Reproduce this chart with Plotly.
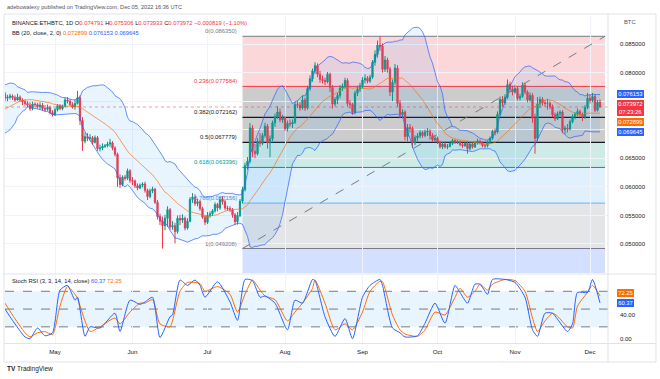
import pandas as pd
import plotly.graph_objects as go

# ---------------- data (ETHBTC daily) ----------------
START = "2022-03-22"

opens = [
    0.0704, 0.0706, 0.0717, 0.0713, 0.0705, 0.0707, 0.0698, 0.0719, 0.0723, 0.0733,
    0.0723, 0.0743, 0.0752, 0.0757, 0.0759, 0.0758, 0.0753, 0.0740, 0.0750, 0.0761,
    0.0763, 0.0755, 0.0757, 0.0759, 0.0756, 0.0752, 0.0757, 0.0752, 0.0749, 0.0746,
    0.0743, 0.0737, 0.0745, 0.0744, 0.0740, 0.0743, 0.0737, 0.0736, 0.0739, 0.0730,
    0.0726, 0.0735, 0.0742, 0.0737, 0.0741, 0.0752, 0.0750, 0.0744, 0.0740, 0.0746,
    0.0756, 0.0716, 0.0680, 0.0688, 0.0685, 0.0686, 0.0678, 0.0686, 0.0667, 0.0668,
    0.0671, 0.0672, 0.0675, 0.0677, 0.0668, 0.0657, 0.0616, 0.0604, 0.0617, 0.0615, 0.0628,
    0.0611, 0.0610, 0.0602, 0.0598, 0.0603, 0.0605, 0.0594, 0.0583, 0.0593, 0.0596,
    0.0573, 0.0548, 0.0540, 0.0532, 0.0545, 0.0560, 0.0530, 0.0532, 0.0522, 0.0545,
    0.0542, 0.0545, 0.0528, 0.0540, 0.0578, 0.0582, 0.0571, 0.0574, 0.0562, 0.0547,
    0.0538, 0.0550, 0.0553, 0.0558, 0.0569, 0.0563, 0.0578, 0.0574, 0.0563, 0.0562,
    0.0560, 0.0551, 0.0539, 0.0550, 0.0575, 0.0595, 0.0637, 0.0645, 0.0703, 0.0662,
    0.0658, 0.0680, 0.0676, 0.0690, 0.0706, 0.0677, 0.0684, 0.0712, 0.0723, 0.0731, 0.0717,
    0.0721, 0.0702, 0.0711, 0.0710, 0.0713, 0.0744, 0.0743, 0.0738, 0.0752, 0.0738,
    0.0772, 0.0789, 0.0803, 0.0812, 0.0797, 0.0788, 0.0786, 0.0784, 0.0797, 0.0774,
    0.0745, 0.0753, 0.0760, 0.0773, 0.0775, 0.0786, 0.0746, 0.0744, 0.0730, 0.0764, 0.0771,
    0.0777, 0.0787, 0.0790, 0.0785, 0.0792, 0.0818, 0.0832, 0.0848, 0.0846, 0.0806,
    0.0822, 0.0806, 0.0766, 0.0783, 0.0808, 0.0746, 0.0726, 0.0731, 0.0688, 0.0704,
    0.0702, 0.0677, 0.0686, 0.0689, 0.0695, 0.0690, 0.0696, 0.0697, 0.0690, 0.0682,
    0.0685, 0.0678, 0.0670, 0.0675, 0.0670, 0.0671, 0.0676, 0.0681, 0.0678, 0.0679,
    0.0674, 0.0672, 0.0676, 0.0667, 0.0675, 0.0670, 0.0677, 0.0680, 0.0678, 0.0672,
    0.0672, 0.0678, 0.0685, 0.0697, 0.0696, 0.0727, 0.0753, 0.0747, 0.0757, 0.0779, 0.0771,
    0.0766, 0.0772, 0.0755, 0.0758, 0.0778, 0.0766, 0.0752, 0.0760, 0.0720, 0.0685,
    0.0745, 0.0753, 0.0747, 0.0746, 0.0746, 0.0740, 0.0726, 0.0719, 0.0728, 0.0731,
    0.0700, 0.0703, 0.0701, 0.0714, 0.0723, 0.0727, 0.0732, 0.0727, 0.0722, 0.0739,
    0.0755, 0.0751, 0.0758, 0.0734, 0.074791,
]
highs = [
    0.0712, 0.0720, 0.0722, 0.0716, 0.0711, 0.0709, 0.0724, 0.0728, 0.0738, 0.0737,
    0.0747, 0.0756, 0.0762, 0.0765, 0.0766, 0.0762, 0.0757, 0.0754, 0.0764, 0.0767,
    0.0766, 0.0761, 0.0763, 0.0762, 0.0760, 0.0763, 0.0760, 0.0755, 0.0753, 0.0750,
    0.0748, 0.0749, 0.0748, 0.0747, 0.0748, 0.0747, 0.0743, 0.0744, 0.0742, 0.0734,
    0.0738, 0.0745, 0.0745, 0.0744, 0.0756, 0.0757, 0.0753, 0.0748, 0.0752, 0.0768,
    0.0760, 0.0722, 0.0695, 0.0694, 0.0692, 0.0689, 0.0690, 0.0689, 0.0674, 0.0676,
    0.0675, 0.0679, 0.0684, 0.0680, 0.0671, 0.0660, 0.0622, 0.0620, 0.0621, 0.0632, 0.0631,
    0.0617, 0.0613, 0.0606, 0.0606, 0.0608, 0.0609, 0.0597, 0.0597, 0.0600, 0.0598,
    0.0577, 0.0553, 0.0548, 0.0551, 0.0566, 0.0563, 0.0540, 0.0537, 0.0550, 0.0551,
    0.0552, 0.0548, 0.0545, 0.0582, 0.0589, 0.0587, 0.0579, 0.0577, 0.0565, 0.0551,
    0.0556, 0.0557, 0.0561, 0.0573, 0.0572, 0.0583, 0.0584, 0.0578, 0.0567, 0.0566,
    0.0563, 0.0554, 0.0556, 0.0579, 0.0600, 0.0642, 0.0652, 0.0712, 0.0708, 0.0675,
    0.0685, 0.0694, 0.0694, 0.0712, 0.0710, 0.0690, 0.0716, 0.0728, 0.0741, 0.0737, 0.0726,
    0.0724, 0.0716, 0.0718, 0.0718, 0.0749, 0.0750, 0.0748, 0.0760, 0.0756, 0.0777,
    0.0795, 0.0807, 0.0818, 0.0816, 0.0803, 0.0795, 0.0791, 0.0801, 0.0800, 0.0778,
    0.0757, 0.0765, 0.0778, 0.0781, 0.0791, 0.0790, 0.0752, 0.0747, 0.0768, 0.0777, 0.0782,
    0.0792, 0.0797, 0.0794, 0.0796, 0.0822, 0.0839, 0.0856, 0.08635, 0.0851, 0.0829,
    0.0826, 0.0810, 0.0788, 0.0815, 0.0813, 0.0752, 0.0736, 0.0734, 0.0710, 0.0710,
    0.0706, 0.0690, 0.0694, 0.0699, 0.0698, 0.0700, 0.0703, 0.0701, 0.0694, 0.0690,
    0.0688, 0.0681, 0.0679, 0.0680, 0.0675, 0.0680, 0.0684, 0.0683, 0.0682, 0.0681,
    0.0677, 0.0679, 0.0680, 0.0679, 0.0677, 0.0680, 0.0684, 0.0683, 0.0680, 0.0676,
    0.0681, 0.0688, 0.0700, 0.0702, 0.0732, 0.0758, 0.0759, 0.0762, 0.0788, 0.0784, 0.0777,
    0.0778, 0.0775, 0.0763, 0.0783, 0.0782, 0.0769, 0.0765, 0.0764, 0.0728, 0.0757,
    0.0758, 0.0757, 0.0752, 0.0754, 0.0750, 0.0744, 0.0730, 0.0732, 0.0734, 0.0734,
    0.0707, 0.0710, 0.0718, 0.0727, 0.0731, 0.0737, 0.0735, 0.0730, 0.0743, 0.0764,
    0.0762, 0.0764, 0.0762, 0.0752, 0.075306,
]
lows = [
    0.0698, 0.0701, 0.0708, 0.0700, 0.0702, 0.0695, 0.0696, 0.0714, 0.0719, 0.0718,
    0.0720, 0.0740, 0.0748, 0.0752, 0.0753, 0.0745, 0.0735, 0.0737, 0.0748, 0.0756,
    0.0750, 0.0750, 0.0753, 0.0752, 0.0749, 0.0751, 0.0749, 0.0743, 0.0742, 0.0739,
    0.0733, 0.0734, 0.0740, 0.0737, 0.0735, 0.0733, 0.0731, 0.0733, 0.0727, 0.0723,
    0.0724, 0.0732, 0.0734, 0.0734, 0.0739, 0.0746, 0.0741, 0.0737, 0.0735, 0.0744,
    0.0708, 0.0663, 0.0676, 0.0680, 0.0681, 0.0674, 0.0676, 0.0663, 0.0662, 0.0664,
    0.0668, 0.0669, 0.0670, 0.0664, 0.0653, 0.0600, 0.0598, 0.0601, 0.0611, 0.0612, 0.0607,
    0.0603, 0.0598, 0.0594, 0.0596, 0.0599, 0.0590, 0.0577, 0.0580, 0.0589, 0.0570,
    0.0543, 0.0533, 0.0492, 0.0524, 0.0530, 0.0525, 0.0525, 0.0501, 0.0518, 0.0533,
    0.0537, 0.0524, 0.0525, 0.0538, 0.0572, 0.0567, 0.0566, 0.0558, 0.0544, 0.0533,
    0.0535, 0.0546, 0.0549, 0.0555, 0.0557, 0.0560, 0.0569, 0.0559, 0.0558, 0.0556,
    0.0546, 0.0533, 0.0534, 0.0547, 0.0571, 0.0592, 0.0630, 0.0641, 0.0652, 0.0650,
    0.0655, 0.0670, 0.0673, 0.0686, 0.0667, 0.0652, 0.0680, 0.0705, 0.0719, 0.0713, 0.0712,
    0.0698, 0.0697, 0.0705, 0.0703, 0.0710, 0.0738, 0.0733, 0.0735, 0.0733, 0.0735,
    0.0768, 0.0784, 0.0798, 0.0792, 0.0782, 0.0781, 0.0778, 0.0781, 0.0766, 0.0737,
    0.0741, 0.0745, 0.0755, 0.0768, 0.0772, 0.0741, 0.0737, 0.0727, 0.0727, 0.0759, 0.0766,
    0.0772, 0.0781, 0.0781, 0.0782, 0.0789, 0.0812, 0.0826, 0.0838, 0.0800, 0.0801,
    0.0800, 0.0759, 0.0750, 0.0778, 0.0740, 0.0720, 0.0720, 0.0681, 0.0680, 0.0695,
    0.0668, 0.0673, 0.0680, 0.0685, 0.0686, 0.0687, 0.0689, 0.0685, 0.0678, 0.0678,
    0.0675, 0.0667, 0.0666, 0.0667, 0.0666, 0.0669, 0.0673, 0.0675, 0.0675, 0.0671,
    0.0668, 0.0670, 0.0658, 0.0664, 0.0667, 0.0668, 0.0674, 0.0674, 0.0669, 0.0668,
    0.0669, 0.0675, 0.0682, 0.0690, 0.0693, 0.0723, 0.0740, 0.0743, 0.0754, 0.0766, 0.0760,
    0.0763, 0.0751, 0.0751, 0.0756, 0.0762, 0.0748, 0.0749, 0.0712, 0.0658, 0.0680,
    0.0738, 0.0742, 0.0740, 0.0735, 0.0736, 0.0722, 0.0715, 0.0717, 0.0724, 0.0694,
    0.0692, 0.0695, 0.0699, 0.0711, 0.0718, 0.0724, 0.0723, 0.0715, 0.0719, 0.0736,
    0.0746, 0.0748, 0.0731, 0.0732, 0.073933,
]
closes = [
    0.0706, 0.0717, 0.0713, 0.0705, 0.0707, 0.0698, 0.0719, 0.0723, 0.0733, 0.0723,
    0.0743, 0.0752, 0.0757, 0.0759, 0.0758, 0.0753, 0.0740, 0.0750, 0.0761, 0.0763,
    0.0755, 0.0757, 0.0759, 0.0756, 0.0752, 0.0757, 0.0752, 0.0749, 0.0746, 0.0743,
    0.0737, 0.0745, 0.0744, 0.0740, 0.0743, 0.0737, 0.0736, 0.0739, 0.0730, 0.0726,
    0.0735, 0.0742, 0.0737, 0.0741, 0.0752, 0.0750, 0.0744, 0.0740, 0.0746, 0.0756,
    0.0716, 0.0680, 0.0688, 0.0685, 0.0686, 0.0678, 0.0686, 0.0667, 0.0668, 0.0671,
    0.0672, 0.0675, 0.0677, 0.0668, 0.0657, 0.0616, 0.0604, 0.0617, 0.0615, 0.0628, 0.0611,
    0.0610, 0.0602, 0.0598, 0.0603, 0.0605, 0.0594, 0.0583, 0.0593, 0.0596, 0.0573,
    0.0548, 0.0540, 0.0532, 0.0545, 0.0560, 0.0530, 0.0532, 0.0522, 0.0545, 0.0542,
    0.0545, 0.0528, 0.0540, 0.0578, 0.0582, 0.0571, 0.0574, 0.0562, 0.0547, 0.0538,
    0.0550, 0.0553, 0.0558, 0.0569, 0.0563, 0.0578, 0.0574, 0.0563, 0.0562, 0.0560,
    0.0551, 0.0539, 0.0550, 0.0575, 0.0595, 0.0637, 0.0645, 0.0703, 0.0662, 0.0658,
    0.0680, 0.0676, 0.0690, 0.0706, 0.0677, 0.0684, 0.0712, 0.0723, 0.0731, 0.0717, 0.0721,
    0.0702, 0.0711, 0.0710, 0.0713, 0.0744, 0.0743, 0.0738, 0.0752, 0.0738, 0.0772,
    0.0789, 0.0803, 0.0812, 0.0797, 0.0788, 0.0786, 0.0784, 0.0797, 0.0774, 0.0745,
    0.0753, 0.0760, 0.0773, 0.0775, 0.0786, 0.0746, 0.0744, 0.0730, 0.0764, 0.0771, 0.0777,
    0.0787, 0.0790, 0.0785, 0.0792, 0.0818, 0.0832, 0.0848, 0.0846, 0.0806, 0.0822,
    0.0806, 0.0766, 0.0783, 0.0808, 0.0746, 0.0726, 0.0731, 0.0688, 0.0704, 0.0702,
    0.0677, 0.0686, 0.0689, 0.0695, 0.0690, 0.0696, 0.0697, 0.0690, 0.0682, 0.0685,
    0.0678, 0.0670, 0.0675, 0.0670, 0.0671, 0.0676, 0.0681, 0.0678, 0.0679, 0.0674,
    0.0672, 0.0676, 0.0667, 0.0675, 0.0670, 0.0677, 0.0680, 0.0678, 0.0672, 0.0672,
    0.0678, 0.0685, 0.0697, 0.0696, 0.0727, 0.0753, 0.0747, 0.0757, 0.0779, 0.0771, 0.0766,
    0.0772, 0.0755, 0.0758, 0.0778, 0.0766, 0.0752, 0.0760, 0.0720, 0.0685, 0.0745,
    0.0753, 0.0747, 0.0746, 0.0746, 0.0740, 0.0726, 0.0719, 0.0728, 0.0731, 0.0700,
    0.0703, 0.0701, 0.0714, 0.0723, 0.0727, 0.0732, 0.0727, 0.0722, 0.0739, 0.0755,
    0.0751, 0.0758, 0.0734, 0.074791, 0.073972,
]

# Stoch RSI (3, 3, 14, 14)
stoch_dates = [
    "2022-04-11", "2022-04-14", "2022-04-19", "2022-04-21", "2022-04-24", "2022-04-27", "2022-04-30",
    "2022-05-03", "2022-05-06", "2022-05-09", "2022-05-10", "2022-05-13", "2022-05-15", "2022-05-19",
    "2022-05-25", "2022-05-27", "2022-05-31", "2022-06-04", "2022-06-06", "2022-06-09", "2022-06-12",
    "2022-06-16", "2022-06-17", "2022-06-20", "2022-06-23", "2022-06-26", "2022-06-28", "2022-06-30",
    "2022-07-05", "2022-07-10", "2022-07-13", "2022-07-16", "2022-07-19", "2022-07-22", "2022-07-24",
    "2022-07-28", "2022-08-02", "2022-08-05", "2022-08-08", "2022-08-12", "2022-08-13", "2022-08-17",
    "2022-08-21", "2022-08-25", "2022-08-28", "2022-09-01", "2022-09-04", "2022-09-08", "2022-09-09",
    "2022-09-13", "2022-09-16", "2022-09-18", "2022-09-23", "2022-09-26", "2022-09-30", "2022-10-04",
    "2022-10-08", "2022-10-10", "2022-10-13", "2022-10-16", "2022-10-18", "2022-10-21", "2022-10-23",
    "2022-10-28", "2022-11-01", "2022-11-05", "2022-11-08", "2022-11-10", "2022-11-13", "2022-11-16",
    "2022-11-18", "2022-11-22", "2022-11-24", "2022-11-26", "2022-11-30", "2022-12-02", "2022-12-05",
]
stoch_k = [
    50, 31, 3, 0, 18, 5, 10,
    82, 90, 65, 70, 4, 20, 18,
    43, 12, 65, 58, 62, 70, 2,
    37, 40, 99, 90, 99, 90, 70,
    96, 62, 31, 100, 98, 70, 72,
    60, 15, 65, 60, 100, 98, 37,
    4, 34, 0, 70, 90, 100, 90,
    18, 10, 3, 5, 26, 60, 26,
    90, 78, 60, 92, 92, 75, 100,
    100, 95, 70, 15, 4, 43, 43,
    33, 12, 25, 78, 78, 100, 60.37,
]
stoch_d = [
    60, 40, 10, 3, 10, 12, 7,
    55, 88, 75, 68, 30, 12, 20,
    35, 25, 45, 60, 60, 66, 25,
    20, 30, 80, 95, 95, 93, 80,
    88, 75, 45, 75, 99, 82, 72,
    66, 30, 45, 60, 85, 99, 60,
    15, 25, 15, 45, 80, 97, 96,
    40, 15, 8, 4, 15, 45, 40,
    70, 85, 70, 80, 92, 82, 92,
    100, 98, 80, 35, 12, 30, 43,
    38, 20, 18, 55, 78, 90, 72.25,
]

fib_ratios = [0, 0.236, 0.382, 0.5, 0.618, 0.786, 1]
fib_prices = [0.086350, 0.077584, 0.072162, 0.067779, 0.063396, 0.057156, 0.049208]
fib_start, fib_end = "2022-07-15", "2022-12-07"

price_ticks = [0.050, 0.055, 0.060, 0.065, 0.070, 0.075, 0.080, 0.085]
price_tick_text = ["0.050000", "0.055000", "0.060000", "0.065000", "", "", "0.080000", "0.085000"]
month_ticks = ["2022-05-01", "2022-06-01", "2022-07-01", "2022-08-01",
               "2022-09-01", "2022-10-01", "2022-11-01", "2022-12-01"]
month_names = ["May", "Jun", "Jul", "Aug", "Sep", "Oct", "Nov", "Dec"]

# ---------------- styling / layout constants ----------------
W, H = 660, 379
FONT = "Liberation Sans, Arial, sans-serif"
DARK = "#131722"
GREY = "#787b86"
GRID = "#f0f3fa"
GREEN = "#089981"
RED = "#f23645"
BLUE = "#2962ff"
ORANGE = "#ff6d00"

PL, PR = 5, 608          # pane left/right (px)
MT, MB = 16, 273         # main pane top/bottom (px)
ST, SB = 275, 343        # stoch pane top/bottom (px)


def xdate(px):
    return (pd.Timestamp("2022-12-01") + pd.Timedelta(days=(px - 590) / 2.5)).isoformat()


def price_at(py):
    return 0.085 - (py - 44) / 5714.0


def stoch_at(py):
    return (338.7 - py) / 0.5925


dates = pd.date_range(START, periods=len(closes), freq="D")
s = pd.Series(closes, index=dates)
basis = s.rolling(20).mean()
dev = s.rolling(20).std(ddof=0)
upper = basis + 2 * dev
lower = basis - 2 * dev

fig = go.Figure()
fig.add_trace(go.Scatter(x=dates, y=upper, mode="lines", line=dict(color="rgba(41,98,255,0.7)", width=1),
                         hoverinfo="skip", xaxis="x", yaxis="y"))
fig.add_trace(go.Scatter(x=dates, y=lower, mode="lines", line=dict(color="rgba(41,98,255,0.7)", width=1),
                         fill="tonexty", fillcolor="rgba(33,150,243,0.10)", hoverinfo="skip", xaxis="x", yaxis="y"))
fig.add_trace(go.Scatter(x=dates, y=basis, mode="lines", line=dict(color="rgba(255,109,0,0.65)", width=1),
                         hoverinfo="skip", xaxis="x", yaxis="y"))
fig.add_trace(go.Candlestick(
    x=dates, open=opens, high=highs, low=lows, close=closes,
    increasing=dict(line=dict(color=GREEN, width=1), fillcolor=GREEN),
    decreasing=dict(line=dict(color=RED, width=1), fillcolor=RED),
    whiskerwidth=0, xaxis="x", yaxis="y"))

fig.add_trace(go.Scatter(x=stoch_dates, y=stoch_d, mode="lines",
                         line=dict(color=ORANGE, width=1, shape="spline", smoothing=0.6),
                         xaxis="x2", yaxis="y2"))
fig.add_trace(go.Scatter(x=stoch_dates, y=stoch_k, mode="lines",
                         line=dict(color=BLUE, width=1, shape="spline", smoothing=0.6),
                         xaxis="x2", yaxis="y2"))

shapes = []
# fib bands
band_colors = ["rgba(242,54,69,0.2)", "rgba(0,0,0,0.2)", "rgba(0,0,0,0.2)", "rgba(8,153,129,0.2)",
               "rgba(100,181,246,0.2)", "rgba(120,123,134,0.2)"]
for i, c in enumerate(band_colors):
    shapes.append(dict(type="rect", xref="x", yref="y", x0=fib_start, x1=fib_end,
                       y0=fib_prices[i + 1], y1=fib_prices[i], fillcolor=c, line=dict(width=0), layer="below"))
shapes.append(dict(type="rect", xref="x", yref="y", x0=fib_start, x1=fib_end,
                   y0=price_at(MB), y1=fib_prices[-1], fillcolor="rgba(41,98,255,0.2)",
                   line=dict(width=0), layer="below"))
line_colors = [GREY, RED, DARK, DARK, GREEN, "#64b5f6", GREY]
for p, c in zip(fib_prices, line_colors):
    shapes.append(dict(type="line", xref="x", yref="y", x0=fib_start, x1=fib_end, y0=p, y1=p,
                       line=dict(color=c, width=1.2 if c == DARK else 1), layer="below"))
# trend line of the fib
shapes.append(dict(type="line", xref="x", yref="y", x0=fib_start, x1=fib_end,
                   y0=fib_prices[-1], y1=fib_prices[0], line=dict(color=GREY, width=1, dash="dash")))
# last price line
shapes.append(dict(type="line", xref="x domain", yref="y", x0=0, x1=1, y0=closes[-1], y1=closes[-1],
                   line=dict(color="rgba(242,54,69,0.5)", width=1, dash="dot")))
# stoch band and levels
shapes.append(dict(type="rect", xref="x2 domain", yref="y2", x0=0, x1=1, y0=20, y1=80,
                   fillcolor="rgba(33,150,243,0.1)", line=dict(width=0), layer="below"))
for lv in (80, 50, 20):
    shapes.append(dict(type="line", xref="x2 domain", yref="y2", x0=0, x1=1, y0=lv, y1=lv,
                       line=dict(color=GREY, width=1, dash="dash"), layer="below"))


def px(x):
    return x / W


def py(y):
    return 1 - y / H


# frame & separators
shapes.append(dict(type="rect", xref="paper", yref="paper", x0=px(4), x1=px(656), y0=py(362), y1=py(14),
                   line=dict(color="#e0e3eb", width=1)))
shapes.append(dict(type="line", xref="paper", yref="paper", x0=px(4), x1=px(656), y0=py(274), y1=py(274),
                   line=dict(color="#e0e3eb", width=1)))
shapes.append(dict(type="line", xref="paper", yref="paper", x0=px(4), x1=px(656), y0=py(343.5), y1=py(343.5),
                   line=dict(color="#e0e3eb", width=1)))
shapes.append(dict(type="line", xref="paper", yref="paper", x0=px(PR), x1=px(PR), y0=py(362), y1=py(14),
                   line=dict(color="#e0e3eb", width=1)))

anns = []


def ann(text, x, y, size=6, color=DARK, xanchor="left", yanchor="middle", **kw):
    anns.append(dict(text=text, x=px(x), y=py(y), xref="paper", yref="paper", xanchor=xanchor,
                     yanchor=yanchor, showarrow=False, font=dict(size=size, color=color, family=FONT), **kw))


ann("adebowalexy published on TradingView.com, Dec 05, 2022 16:36 UTC", 5, 7, size=5.6, color="#50535e")
chg = closes[-1] - closes[-2]
pct = chg / closes[-2] * 100
r = lambda v: f"<span style='color:{RED}'>{v}</span>"
ann("BINANCE:ETHBTC, 1D O" + r(f"{opens[-1]:.6f}") + " H" + r(f"{highs[-1]:.6f}") + " L" + r(f"{lows[-1]:.6f}")
    + " C" + r(f"{closes[-1]:.6f}") + " " + r(f"\u2212{abs(chg):.6f} (\u2212{abs(pct):.2f}%)"), 10, 22.5, size=5.8)
ann("BB (20, close, 2, 0) " + f"<span style='color:{ORANGE}'>0.072899</span> "
    + f"<span style='color:{BLUE}'>0.076153</span> <span style='color:{BLUE}'>0.069645</span>", 10, 32.5, size=5.8)
ann("BTC", 630, 22, size=5.8, color="#50535e", xanchor="center")
ann("Stoch RSI (3, 3, 14, 14, close) " + f"<span style='color:{BLUE}'>60.37</span> "
    + f"<span style='color:{ORANGE}'>72.25</span>", 10, 280.5, size=5.8)
ann("<b>TV</b> TradingView", 5, 369, size=6.5, color=DARK)

# fib labels
for rr, p, c in zip(fib_ratios, fib_prices, line_colors):
    anns.append(dict(text=f"{rr:g}({p:.6f})", x=fib_start, y=p, xref="x", yref="y", xanchor="right",
                     yanchor="bottom", xshift=-4, yshift=0, showarrow=False,
                     font=dict(size=5.9, color=c if c != "#64b5f6" else "#4a90d9", family=FONT)))


# price-scale badges
def badge(text, y, bg):
    ann(text, 617, y, size=5.8, color="white", bgcolor=bg, borderwidth=0, borderpad=1.2)


badge("0.076153", 93.5, BLUE)
badge("0.073972<br>07:23:26", 107.8, RED)
badge("0.072899", 121.9, ORANGE)
badge("0.069645", 131.9, BLUE)
badge("72.25", 292.5, ORANGE)
badge("60.37", 303, BLUE)

xr = [xdate(PL), xdate(PR)]
fig.update_layout(
    width=W, height=H, margin=dict(l=0, r=0, t=0, b=0),
    paper_bgcolor="white", plot_bgcolor="white", showlegend=False,
    shapes=shapes, annotations=anns,
    xaxis=dict(domain=[px(PL), px(PR)], range=xr, anchor="y", showticklabels=False, showgrid=True,
               gridcolor=GRID, tickvals=month_ticks, zeroline=False, rangeslider=dict(visible=False),
               showline=False, ticks=""),
    yaxis=dict(domain=[py(MB), py(MT)], range=[price_at(MB), price_at(MT)], side="right", anchor="x",
               tickvals=price_ticks, ticktext=price_tick_text, showgrid=True,
               gridcolor=GRID, zeroline=False, ticks="", ticklabelstandoff=11,
               tickfont=dict(size=6, color=DARK, family=FONT)),
    xaxis2=dict(domain=[px(PL), px(PR)], range=xr, anchor="y2", tickvals=month_ticks, ticktext=month_names,
                showgrid=True, gridcolor=GRID, zeroline=False, ticks="", ticklabelstandoff=4,
                tickfont=dict(size=6.2, color=DARK, family=FONT)),
    yaxis2=dict(domain=[py(SB), py(ST)], range=[stoch_at(SB), stoch_at(ST)], side="right", anchor="x2",
                tickvals=[0, 40], ticktext=["0.00", "40.00"], showgrid=False, zeroline=False, ticks="",
                ticklabelstandoff=11, tickfont=dict(size=6, color=DARK, family=FONT)),
)

fig.write_html("out.html", config={"displayModeBar": False},
               post_script="document.body.style.margin='0px';document.body.style.overflow='hidden';")
